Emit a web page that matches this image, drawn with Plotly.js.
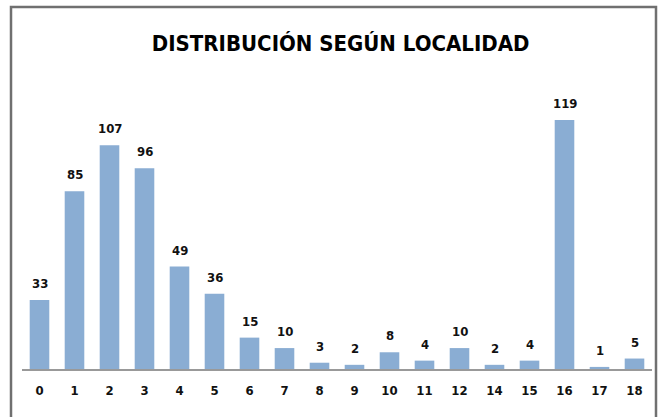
<!DOCTYPE html>
<html><head><meta charset="utf-8">
<script src="https://cdn.plot.ly/plotly-3.0.1.min.js"></script>
<style>html,body{margin:0;padding:0;background:#fff;}#chart{width:664px;height:417px;}</style>
</head><body><div id="chart"></div>
<script>
const categories = ["0","1","2","3","4","5","6","7","8","9","10","11","12","14","15","16","17","18"];
const values = [33,85,107,96,49,36,15,10,3,2,8,4,10,2,4,119,1,5];
const titleText = "DISTRIBUCIÓN SEGÚN LOCALIDAD";

const FONT = "'Liberation Sans Narrow', 'DejaVu Sans Condensed', 'Open Sans', sans-serif";
const annotations = categories.map((c, i) => ({
  x: i, y: values[i], xref: 'x', yref: 'y', text: '<b>' + values[i] + '</b>',
  showarrow: false, yanchor: 'bottom', yshift: 7,
  font: {family: FONT, size: 13, color: '#111'}
}));

const L = 22, R = 12, T = 100, B = 48, W = 664, H = 417;
const pw = W - L - R, ph = H - T - B;
const px = v => (v - L) / pw;
const py = v => (H - B - v) / ph;

Plotly.newPlot('chart', [{
  type: 'bar', x: categories, y: values,
  marker: {color: '#8AADD3'}, width: 0.56, hoverinfo: 'none'
}], {
  width: W, height: H,
  margin: {l: L, r: R, t: T, b: B, pad: 0},
  paper_bgcolor: '#fff', plot_bgcolor: '#fff',
  title: {text: '<b>' + titleText + '</b>', x: 0.513, xanchor: 'center', y: 0.895, yanchor: 'middle',
    font: {family: FONT, size: 22, color: '#000'}},
  xaxis: {type: 'category', showgrid: false, zeroline: false, showline: true, linecolor: '#999', linewidth: 2,
    ticks: 'outside', ticklen: 8, tickcolor: 'rgba(0,0,0,0)',
    tickfont: {family: FONT, size: 13, color: '#111'}, tickprefix: '<b>', ticksuffix: '</b>'},
  yaxis: {range: [0, 128.6], visible: false, showgrid: false, zeroline: false},
  annotations: annotations,
  shapes: [{type: 'rect', xref: 'paper', yref: 'paper', x0: px(11), x1: px(656), y0: py(7), y1: py(425),
    line: {color: '#707070', width: 2.5}, fillcolor: 'rgba(0,0,0,0)', layer: 'above'}],
  showlegend: false
}, {staticPlot: true});
</script></body></html>
